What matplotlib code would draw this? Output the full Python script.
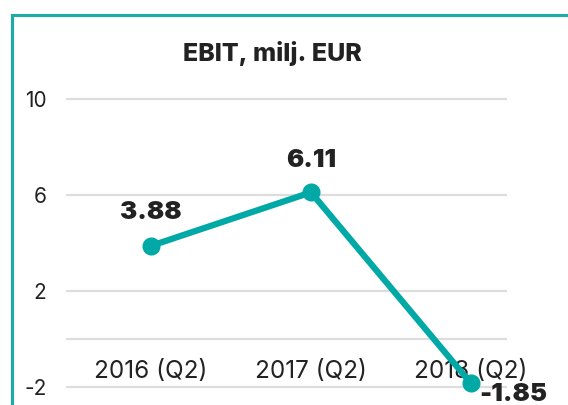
import matplotlib
matplotlib.use("Agg")
import matplotlib.pyplot as plt
from matplotlib.patches import Rectangle

categories = ["2016 (Q2)", "2017 (Q2)", "2018 (Q2)"]
values = [3.88, 6.11, -1.85]
value_labels = ["3.88", "6.11", "-1.85"]
yticks = [10, 6, 2, -2]
title = "EBIT, milj. EUR"

TEAL = "#00A9A5"
W, H = 568, 405
plt.rcParams['font.family'] = ['Inter', 'DejaVu Sans']

fig = plt.figure(figsize=(W / 100, H / 100), dpi=100)
left, right = 66, 507
top, bottom = 75, 404
ax = fig.add_axes([left / W, 1 - bottom / H, (right - left) / W, (bottom - top) / H])
ax.set_xlim(-0.531, 2.225)
ax.set_ylim(-2.71, 11.0)
for s in ax.spines.values():
    s.set_visible(False)
ax.set_xticks([])
ax.set_yticks(yticks)
ax.set_yticklabels([str(t) for t in yticks], fontsize=15, color="#222222")
ax.tick_params(axis='y', length=0, pad=14)
for t in yticks + [0]:
    ax.axhline(t, color="#dddddd", lw=1.6, zorder=0)

x = list(range(len(categories)))
ax.plot(x, values, color=TEAL, lw=4.5, marker='o', markersize=12, solid_capstyle='round', zorder=3, clip_on=False)

for i, c in enumerate(categories):
    ax.annotate(c, (i, 0), xytext=(0, -33), textcoords='offset pixels', ha='center', va='center',
                fontsize=17.5, color="#222222", zorder=2)

offsets = [(0, 33), (0, 32), (42, -11)]
for i, (v, lab) in enumerate(zip(values, value_labels)):
    ax.annotate(lab, (i, v), xytext=offsets[i], textcoords='offset pixels', ha='center', va='center',
                fontsize=18.5, fontweight=900, color="#222222", zorder=4, annotation_clip=False)

fig.text(272 / W, 1 - 53 / H, title, ha='center', va='center', fontsize=18, fontweight=800, color="#222222")

fig.patches.append(Rectangle((12 / W, -0.1), 1.2, 1 - 15 / H + 0.1, transform=fig.transFigure,
                             fill=False, edgecolor="#1AADA8", lw=2.2, clip_on=False))

fig.savefig("out.png", dpi=100)
